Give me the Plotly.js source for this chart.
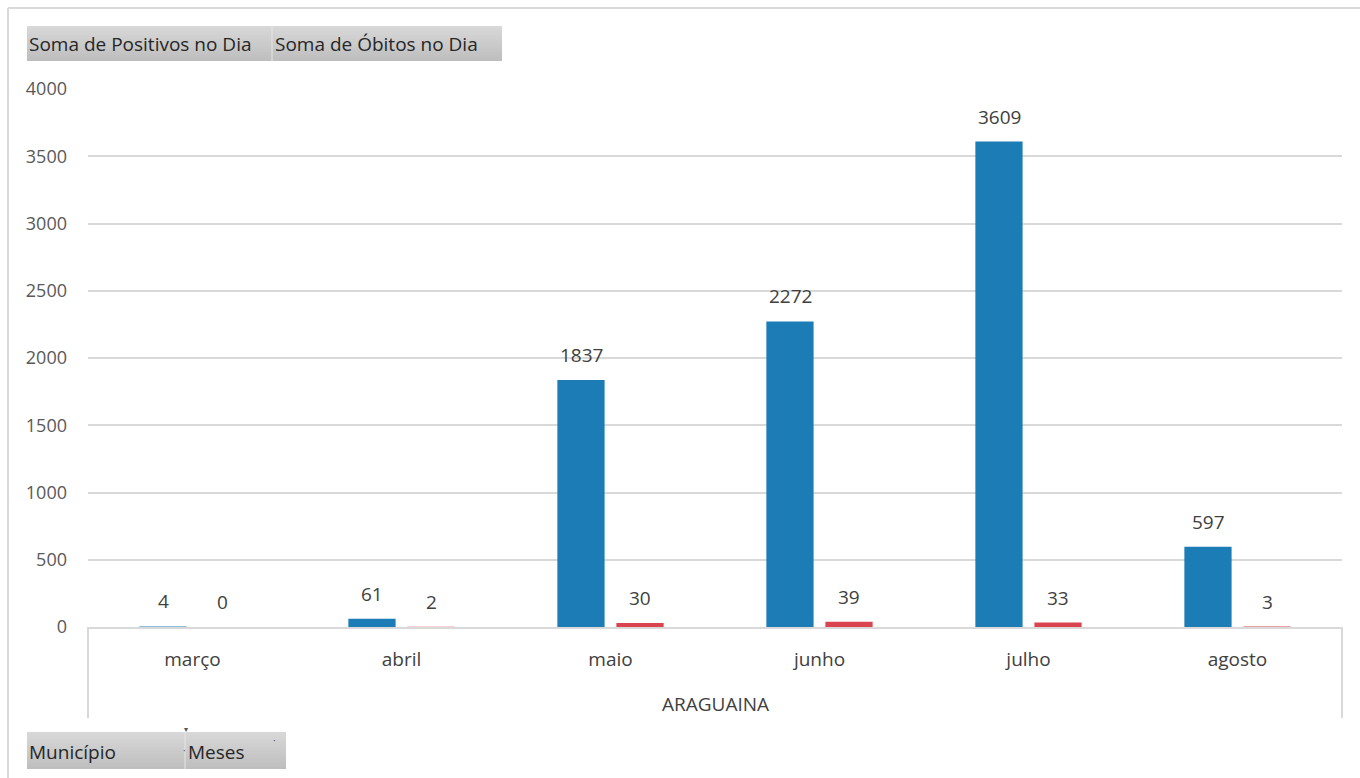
<!DOCTYPE html>
<html>
<head>
<meta charset="utf-8">
<script src="https://cdn.plot.ly/plotly-3.0.1.min.js"></script>
<style>html,body{margin:0;padding:0;background:#fff;}#chart{width:1360px;height:778px;}</style>
</head>
<body>
<div id="chart"></div>
<script>
// ---- data ----
const months = ["março", "abril", "maio", "junho", "julho", "agosto"];
const positivos = [4, 61, 1837, 2272, 3609, 597];
const obitos = [0, 2, 30, 39, 33, 3];
const seriesNames = ["Soma de Positivos no Dia", "Soma de Óbitos no Dia"];
const municipio = "ARAGUAINA";
const filterLabels = ["Município", "Meses"];
const yTicks = [0, 500, 1000, 1500, 2000, 2500, 3000, 3500, 4000];

// ---- layout helpers (pixel -> paper) ----
const W = 1360, H = 778;
const L = 88, R = 1342, T = 89, B = 627;
const px = v => (v - L) / (R - L);
const py = v => (B - v) / (B - T);
const FONT = "Open Sans, Noto Sans, sans-serif";

const blue = "#1c7cb6", red = "#d9444e";

const traces = [
  {type: "bar", name: seriesNames[0], x: months, y: positivos,
   marker: {color: blue}, hoverinfo: "x+y"},
  {type: "bar", name: seriesNames[1], x: months, y: obitos,
   marker: {color: red}, hoverinfo: "x+y"}
];

const annotations = [];
months.forEach((m, i) => {
  annotations.push({x: m, y: positivos[i], xref: "x", yref: "y", text: String(positivos[i]),
    showarrow: false, xshift: -29.5, yshift: 25, yanchor: "middle",
    font: {family: FONT, size: 19, color: "#404040"}});
  annotations.push({x: m, y: obitos[i], xref: "x", yref: "y", text: String(obitos[i]),
    showarrow: false, xshift: 29.5, yshift: 25, yanchor: "middle",
    font: {family: FONT, size: 19, color: "#404040"}});
});

// gradient button helper (stacked bands, each reaching the bottom, so no seams)
const shapes = [];
function button(x0, x1, y0, y1, label, labelX) {
  const n = 18;
  for (let k = 0; k < n; k++) {
    const t = k / (n - 1);
    const c = Math.round(216 - t * 26);
    shapes.push({type: "rect", xref: "paper", yref: "paper",
      x0: px(x0), x1: px(x1),
      y0: py(y0 + (y1 - y0) * k / n), y1: py(y1),
      line: {width: 0}, fillcolor: `rgb(${c},${c},${c})`, layer: "below"});
  }
  annotations.push({xref: "paper", yref: "paper", x: px(labelX), y: py((y0 + y1) / 2 + 1),
    xanchor: "left", yanchor: "middle", text: label, showarrow: false,
    font: {family: FONT, size: 19, color: "#262626"}});
}
button(27, 272, 26, 61, seriesNames[0], 27);
button(272, 502, 26, 61, seriesNames[1], 273);
shapes.push({type: "line", xref: "paper", yref: "paper", x0: px(272), x1: px(272), y0: py(26), y1: py(61),
  line: {color: "#e6e6e6", width: 1}});
button(27, 185, 732, 769, filterLabels[0], 27);
button(185, 286, 732, 769, filterLabels[1], 186);
shapes.push({type: "line", xref: "paper", yref: "paper", x0: px(185), x1: px(185), y0: py(732), y1: py(769),
  line: {color: "#e6e6e6", width: 1}});
annotations.push({xref: "paper", yref: "paper", x: px(182), y: py(736), text: "▾", showarrow: false,
  font: {family: FONT, size: 8, color: "#555"}});
annotations.push({xref: "paper", yref: "paper", x: px(181), y: py(759), text: "·", showarrow: false,
  font: {family: FONT, size: 10, color: "#555"}});
annotations.push({xref: "paper", yref: "paper", x: px(271), y: py(749), text: "·", showarrow: false,
  font: {family: FONT, size: 10, color: "#555"}});

// outer frame
shapes.push({type: "line", xref: "paper", yref: "paper", x0: px(8), x1: px(8), y0: py(8), y1: py(778),
  line: {color: "#d9d9d9", width: 2}});
shapes.push({type: "line", xref: "paper", yref: "paper", x0: px(8), x1: px(1360), y0: py(8), y1: py(8),
  line: {color: "#d9d9d9", width: 2}});
// category axis dividers
shapes.push({type: "line", xref: "paper", yref: "paper", x0: 0, x1: 0, y0: 0, y1: py(718),
  line: {color: "#d9d9d9", width: 2}});
shapes.push({type: "line", xref: "paper", yref: "paper", x0: 1, x1: 1, y0: 0, y1: py(718),
  line: {color: "#d9d9d9", width: 2}});

// municipality label
annotations.push({xref: "paper", yref: "paper", x: 0.5, y: py(704), text: municipio, showarrow: false,
  yanchor: "middle", font: {family: FONT, size: 19, color: "#404040"}});

const layout = {
  width: W, height: H,
  margin: {l: L, r: W - R, t: T, b: H - B, pad: 0},
  paper_bgcolor: "#fff", plot_bgcolor: "#fff",
  font: {family: FONT, size: 18, color: "#595959"},
  showlegend: false,
  barmode: "group", bargap: 0.435, bargroupgap: 0.2,
  xaxis: {type: "category", showgrid: false, showline: true, linecolor: "#d9d9d9", linewidth: 2,
    ticks: "", ticklabelstandoff: 14, tickfont: {family: FONT, size: 19, color: "#404040"},
    zeroline: false, fixedrange: true},
  yaxis: {range: [0, 4000], tickvals: yTicks, showgrid: true, gridcolor: "#d9d9d9", gridwidth: 2,
    zeroline: false, showline: false, ticks: "", ticklabelstandoff: 20,
    tickfont: {family: FONT, size: 18, color: "#595959"}, fixedrange: true},
  shapes: shapes,
  annotations: annotations
};

Plotly.newPlot("chart", traces, layout, {displayModeBar: false, staticPlot: true});
</script>
</body>
</html>
